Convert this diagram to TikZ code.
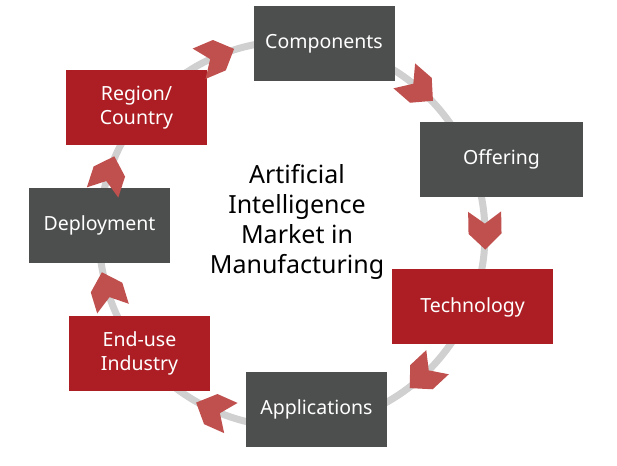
\documentclass[tikz,border=0pt]{standalone}
\usepackage{fontspec}
\setmainfont{Noto Sans}
\usepackage{tikz}
\usetikzlibrary{positioning,calc}
\definecolor{boxgray}{RGB}{77,79,78}
\definecolor{boxred}{RGB}{172,30,36}
\definecolor{chevred}{RGB}{192,80,77}
\definecolor{ringgray}{RGB}{208,208,208}
\tikzset{seg/.style={draw=none,minimum width=141pt,minimum height=75pt,inner sep=0pt,align=center,text=white,font=\fontsize{19.5}{24}\selectfont}}

\begin{document}
\begin{tikzpicture}[x=1pt, y=1pt]
        \tikzstyle{graybox}=[seg,fill=boxgray]
        \tikzstyle{redbox}=[seg,fill=boxred]
        \useasboundingbox (0,0) rectangle (617,465);
        \coordinate (O) at (292,231);
        \draw[ringgray,line width=7pt] (O) circle (193);
        \node[graybox] (comp) at (324,421.5) {Components};
        \node[graybox,minimum width=163pt] (offer) at (501.5,305.5) {Offering};
        \node[redbox,minimum width=161pt] (tech) at (472.5,158) {Technology};
        \node[graybox] (appl) at (316.5,55.5) {Applications};
        \node[redbox] (enduse) at (139.5,111.5) {End-use\\Industry};
        \node[graybox] (deploy) at (99.5,239.5) {Deployment};
        \node[redbox] (region) at (136.5,357) {Region/\\Country};
        \node[font=\fontsize{25}{30}\selectfont,align=center] (title) at (297,243) {Artificial\\Intelligence\\Market in\\Manufacturing};
        % chevrons along the ring, clockwise
        \foreach \a in {113,49,1,-47,246,197,162}
            \fill[chevred,shift={($(O)+(\a:193)$)},rotate=\a-90] (-19,16.5) -- (3,16.5) -- (19,0) -- (3,-16.5) -- (-19,-16.5) -- (-7,0) -- cycle;
        \end{tikzpicture}
\end{document}
